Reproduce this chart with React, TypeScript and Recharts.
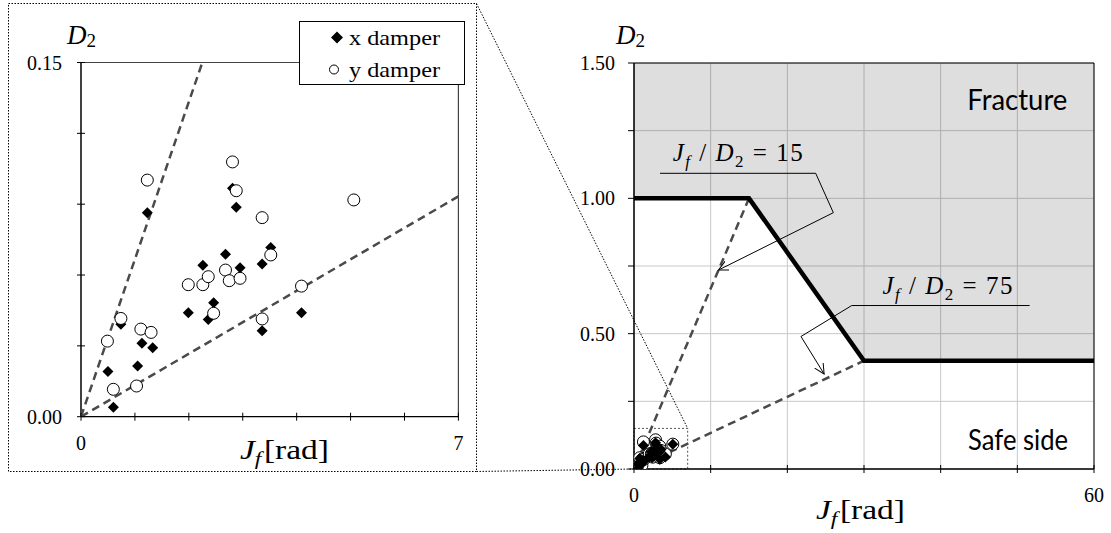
import React from 'react';
import {
  ScatterChart,
  ComposedChart,
  Scatter,
  Area,
  XAxis,
  YAxis,
  CartesianGrid,
  ReferenceLine,
  ReferenceArea,
} from 'recharts';

// ---- measured damper responses (Jf [rad], D2) ----
const xDamper = [
  { x: 0.6, y: 0.004 }, { x: 0.5, y: 0.0191 }, { x: 0.74, y: 0.0392 }, { x: 1.05, y: 0.0215 },
  { x: 1.13, y: 0.0311 }, { x: 1.33, y: 0.0292 }, { x: 1.23, y: 0.0864 }, { x: 1.99, y: 0.044 },
  { x: 2.36, y: 0.0412 }, { x: 2.46, y: 0.0483 }, { x: 2.26, y: 0.0641 }, { x: 2.68, y: 0.0688 },
  { x: 2.95, y: 0.0631 }, { x: 2.81, y: 0.0967 }, { x: 2.88, y: 0.0887 }, { x: 3.36, y: 0.0647 },
  { x: 3.52, y: 0.0717 }, { x: 3.36, y: 0.0364 }, { x: 4.09, y: 0.044 }, { x: 5.06, y: 0.0918 },
];
const yDamper = [
  { x: 0.49, y: 0.032 }, { x: 0.6, y: 0.0116 }, { x: 0.74, y: 0.0416 }, { x: 1.03, y: 0.013 },
  { x: 1.11, y: 0.0371 }, { x: 1.3, y: 0.0357 }, { x: 1.23, y: 0.1002 }, { x: 1.99, y: 0.0559 },
  { x: 2.26, y: 0.0559 }, { x: 2.36, y: 0.0593 }, { x: 2.46, y: 0.0438 }, { x: 2.68, y: 0.0621 },
  { x: 2.75, y: 0.0576 }, { x: 2.95, y: 0.0586 }, { x: 2.81, y: 0.1079 }, { x: 2.88, y: 0.0957 },
  { x: 3.36, y: 0.0843 }, { x: 3.52, y: 0.0685 }, { x: 3.36, y: 0.0414 }, { x: 4.09, y: 0.0553 },
  { x: 5.06, y: 0.0918 },
];

// ---- Jf / D2 ratio lines ----
const ratio15Zoom = [{ x: 0, y: 0 }, { x: 2.25, y: 0.15 }];
const ratio75Zoom = [{ x: 0, y: 0 }, { x: 7, y: 0.0933 }];
const ratio15Full = [{ x: 0, y: 0 }, { x: 15, y: 1.0 }];
const ratio75Full = [{ x: 0, y: 0 }, { x: 30, y: 0.4 }];

// ---- fracture boundary ----
const boundary = [{ x: 0, y: 1.0 }, { x: 15, y: 1.0 }, { x: 30, y: 0.4 }, { x: 60, y: 0.4 }];
const fractureBand = [
  { x: 0, band: [1.0, 1.5] },
  { x: 15, band: [1.0, 1.5] },
  { x: 30, band: [0.4, 1.5] },
  { x: 60, band: [0.4, 1.5] },
];

// ---- leader lines for the ratio labels ----
const leader15 = [{ x: 3.39, y: 1.0925 }, { x: 23.7, y: 1.0925 }, { x: 26.0, y: 0.947 }, { x: 11.02, y: 0.735 }];
const leader75 = [{ x: 51.6, y: 0.604 }, { x: 28.4, y: 0.604 }, { x: 21.78, y: 0.4895 }, { x: 24.8, y: 0.351 }];
const ratioLabels = [
  { x: 5.05, y: 1.139, ratio: 15 },
  { x: 32.4, y: 0.648, ratio: 75 },
];
const zoneLabels = [
  { x: 50, y: 1.325, text: 'Fracture' },
  { x: 50.1, y: 0.07, text: 'Safe side' },
];

// ---- axes ----
const zoomXTicks = [0, 1, 2, 3, 4, 5, 6, 7];
const zoomYTicks = [0, 0.03, 0.06, 0.09, 0.12, 0.15];
const zoomXLabels = [0, 7];
const zoomYLabels = [0, 0.15];
const fullXTicks = [0, 10, 20, 30, 40, 50, 60];
const fullYTicks = [0, 0.25, 0.5, 0.75, 1.0, 1.25, 1.5];
const fullXLabels = [0, 60];
const fullYLabels = [0, 0.5, 1.0, 1.5];

const legendItems = [
  { name: 'x damper', kind: 'diamond' },
  { name: 'y damper', kind: 'circle' },
];

const SERIF = 'Liberation Serif, Times New Roman, Times, serif';
const DASH_COLOR = '#4a4a4a';

// ---- layout ----
const L = { w: 480, h: 480, left: 81, top: 62.5, right: 458.4, bottom: 416.7 };
const R_OFF = 560;
const R = { w: 551, h: 533, left: 74, top: 63, right: 534, bottom: 469 };
const AXIS_W = 1;

const noDot = () => <g />;

const Diamond = (p: any) => {
  const s = 5.5;
  const { cx, cy } = p;
  return <polygon points={`${cx},${cy - s} ${cx + s},${cy} ${cx},${cy + s} ${cx - s},${cy}`} fill="#000" />;
};
const Circle = (p: any) => <circle cx={p.cx} cy={p.cy} r={6} fill="#fff" stroke="#000" strokeWidth={1} />;

const makeYTick = (labels: number[], inner: number, outer: number) => (p: any) => {
  const v = p.payload.value;
  const show = labels.some((l) => Math.abs(l - v) < 1e-9);
  return (
    <g>
      <line x1={p.x - outer} x2={p.x + inner} y1={p.y} y2={p.y} stroke="#000" strokeWidth={1} />
      {show && (
        <text x={p.x - 19} y={p.y + 7} textAnchor="end" fontSize={20} fontFamily={SERIF} fill="#000">
          {v.toFixed(2)}
        </text>
      )}
    </g>
  );
};
const makeXTick = (labels: number[]) => (p: any) => {
  const v = p.payload.value;
  const show = labels.some((l) => Math.abs(l - v) < 1e-9);
  return (
    <g>
      <line x1={p.x} x2={p.x} y1={p.y - 4} y2={p.y + 4} stroke="#000" strokeWidth={1} />
      {show && (
        <text x={p.x} y={p.y + 33} textAnchor="middle" fontSize={20} fontFamily={SERIF} fill="#000">
          {String(v)}
        </text>
      )}
    </g>
  );
};

const RatioLabel = (p: any) => (
  <text x={p.cx} y={p.cy} fontFamily={SERIF} fontSize={25} fill="#000" textLength={130} lengthAdjust="spacing">
    <tspan fontStyle="italic">J</tspan>
    <tspan fontStyle="italic" fontSize={17} dy={6}>f</tspan>
    <tspan dy={-6}>{' / '}</tspan>
    <tspan fontStyle="italic">D</tspan>
    <tspan fontSize={17} dy={6}>2</tspan>
    <tspan dy={-6}>{` = ${p.payload.ratio}`}</tspan>
  </text>
);
const ZoneLabel = (p: any) => (
  <text
    x={p.cx}
    y={p.cy}
    textAnchor="middle"
    fontFamily="Lato, Open Sans, sans-serif"
    fontSize={29}
    fill="#000"
    textLength={100}
    lengthAdjust="spacingAndGlyphs"
  >
    {p.payload.text}
  </text>
);

const dashedLine = { stroke: DASH_COLOR, strokeWidth: 2.5, strokeDasharray: '8 5' };

function ZoomChart() {
  return (
    <ScatterChart
      width={L.w}
      height={L.h}
      margin={{ top: L.top, left: L.left - AXIS_W, right: L.w - L.right, bottom: L.h - L.bottom - AXIS_W }}
    >
      <XAxis
        type="number"
        dataKey="x"
        domain={[0, 7]}
        ticks={zoomXTicks}
        interval={0}
        height={AXIS_W}
        tickSize={0}
        tickMargin={0}
        tickLine={false}
        axisLine={{ stroke: '#000', strokeWidth: 1.3 }}
        tick={makeXTick(zoomXLabels)}
        allowDataOverflow
      />
      <YAxis
        type="number"
        dataKey="y"
        domain={[0, 0.15]}
        ticks={zoomYTicks}
        interval={0}
        width={AXIS_W}
        tickSize={0}
        tickMargin={0}
        tickLine={false}
        axisLine={{ stroke: '#000', strokeWidth: 1.5 }}
        tick={makeYTick(zoomYLabels, 4, 4)}
        allowDataOverflow
      />
      <ReferenceLine y={0.15} stroke="#444" strokeWidth={1.2} />
      <ReferenceLine x={7} stroke="#444" strokeWidth={1.2} />
      <Scatter data={ratio15Zoom} line={dashedLine} shape={noDot} isAnimationActive={false} />
      <Scatter data={ratio75Zoom} line={dashedLine} shape={noDot} isAnimationActive={false} />
      <Scatter data={xDamper} shape={Diamond} isAnimationActive={false} />
      <Scatter data={yDamper} shape={Circle} isAnimationActive={false} />
    </ScatterChart>
  );
}

function FullChart() {
  return (
    <ComposedChart
      width={R.w}
      height={R.h}
      data={fractureBand}
      margin={{ top: R.top, left: R.left - AXIS_W, right: R.w - R.right, bottom: R.h - R.bottom - AXIS_W }}
    >
      <CartesianGrid stroke="#c8c8c8" strokeWidth={1} />
      <XAxis
        type="number"
        dataKey="x"
        domain={[0, 60]}
        ticks={fullXTicks}
        interval={0}
        height={AXIS_W}
        tickSize={0}
        tickMargin={0}
        tickLine={false}
        axisLine={{ stroke: '#000', strokeWidth: 1.3 }}
        tick={makeXTick(fullXLabels)}
        allowDataOverflow
      />
      <YAxis
        type="number"
        domain={[0, 1.5]}
        ticks={fullYTicks}
        interval={0}
        width={AXIS_W}
        tickSize={0}
        tickMargin={0}
        tickLine={false}
        axisLine={{ stroke: '#000', strokeWidth: 1.5 }}
        tick={makeYTick(fullYLabels, 0, 6)}
        allowDataOverflow
      />
      <Area
        dataKey="band"
        type="linear"
        fill="#000"
        fillOpacity={0.13}
        stroke="none"
        isAnimationActive={false}
        activeDot={false}
      />
      <ReferenceLine y={1.5} stroke="#000" strokeWidth={1} />
      <ReferenceLine x={60} stroke="#000" strokeWidth={1} />
      <ReferenceArea x1={0} x2={7} y1={0} y2={0.15} fill="none" stroke="#555" strokeDasharray="2 2" strokeWidth={1} />
      <Scatter data={ratio15Full} dataKey="y" line={dashedLine} shape={noDot} isAnimationActive={false} />
      <Scatter data={ratio75Full} dataKey="y" line={dashedLine} shape={noDot} isAnimationActive={false} />
      <Scatter data={boundary} dataKey="y" line={{ stroke: '#000', strokeWidth: 4.5 }} shape={noDot} isAnimationActive={false} />
      <Scatter
        data={leader15}
        dataKey="y"
        line={{ stroke: '#000', strokeWidth: 1, markerEnd: 'url(#leaderArrow)' }}
        shape={noDot}
        isAnimationActive={false}
      />
      <Scatter
        data={leader75}
        dataKey="y"
        line={{ stroke: '#000', strokeWidth: 1, markerEnd: 'url(#leaderArrow)' }}
        shape={noDot}
        isAnimationActive={false}
      />
      <Scatter data={yDamper} dataKey="y" shape={Circle} isAnimationActive={false} />
      <Scatter data={xDamper} dataKey="y" shape={Diamond} isAnimationActive={false} />
      <Scatter data={ratioLabels} dataKey="y" shape={RatioLabel} isAnimationActive={false} />
      <Scatter data={zoneLabels} dataKey="y" shape={ZoneLabel} isAnimationActive={false} />
    </ComposedChart>
  );
}

// position of a data point on the full chart, used only for the connector guides
const fullPx = (x: number, y: number) => ({
  x: R_OFF + R.left + (x / 60) * (R.right - R.left),
  y: R.bottom - (y / 1.5) * (R.bottom - R.top),
});

function AxisTitleD(props: { x: number; y: number }) {
  return (
    <text x={props.x} y={props.y} fontFamily={SERIF} fontSize={27} fill="#000">
      <tspan fontStyle="italic">D</tspan>
      <tspan fontSize={19} dy={3}>2</tspan>
    </text>
  );
}
function AxisTitleJ(props: { x: number; y: number }) {
  return (
    <text x={props.x} y={props.y} fontFamily={SERIF} fontSize={27} fill="#000" textLength={89} lengthAdjust="spacingAndGlyphs">
      <tspan fontStyle="italic">J</tspan>
      <tspan fontStyle="italic" fontSize={19} dy={6}>f</tspan>
      <tspan dy={-6} dx={2}>[rad]</tspan>
    </text>
  );
}

function Overlay() {
  const frame = { x1: 8.5, y1: 3.5, x2: 476.5, y2: 471.5 };
  const corner = fullPx(7, 0.15);
  const origin = fullPx(0, 0);
  const lg = { x: 299.5, y: 21.5, w: 165, h: 63 };
  return (
    <svg width={1111} height={533} style={{ position: 'absolute', left: 0, top: 0, pointerEvents: 'none' }}>
      <defs>
        <marker id="leaderArrow" markerWidth="12" markerHeight="12" refX="10" refY="5" orient="auto" markerUnits="userSpaceOnUse">
          <path d="M0,0 L10,5 L0,10" fill="none" stroke="#000" strokeWidth={1} />
        </marker>
      </defs>
      <g stroke="#000" strokeWidth={1} strokeDasharray="1.5 1.5" fill="none">
        <rect x={frame.x1} y={frame.y1} width={frame.x2 - frame.x1} height={frame.y2 - frame.y1} />
        <line x1={frame.x2} y1={frame.y1} x2={corner.x} y2={corner.y} />
        <line x1={frame.x2} y1={frame.y2} x2={origin.x} y2={origin.y} />
      </g>
      {/* legend */}
      <rect x={lg.x} y={lg.y} width={lg.w} height={lg.h} fill="#fff" stroke="#000" strokeWidth={1} />
      {legendItems.map((it, i) => {
        const cy = lg.y + 16 + i * 32;
        return (
          <g key={it.name}>
            {it.kind === 'diamond' ? (
              <polygon points={`337,${cy - 6} 343,${cy} 337,${cy + 6} 331,${cy}`} fill="#000" />
            ) : (
              <circle cx={334} cy={cy} r={4.5} fill="#fff" stroke="#000" />
            )}
            <text x={349} y={cy + 7} fontFamily={SERIF} fontSize={21} fill="#000" textLength={91} lengthAdjust="spacingAndGlyphs">
              {it.name}
            </text>
          </g>
        );
      })}
      <AxisTitleD x={67} y={44} />
      <AxisTitleJ x={240} y={459} />
      <AxisTitleD x={616} y={44} />
      <AxisTitleJ x={816} y={519} />
    </svg>
  );
}

export default function App() {
  return (
    <div style={{ position: 'absolute', left: 0, top: 0, width: 1111, height: 533, background: '#fff', overflow: 'hidden' }}>
      <div style={{ position: 'absolute', left: 0, top: 0 }}>
        <ZoomChart />
      </div>
      <div style={{ position: 'absolute', left: R_OFF, top: 0 }}>
        <FullChart />
      </div>
      <Overlay />
    </div>
  );
}
